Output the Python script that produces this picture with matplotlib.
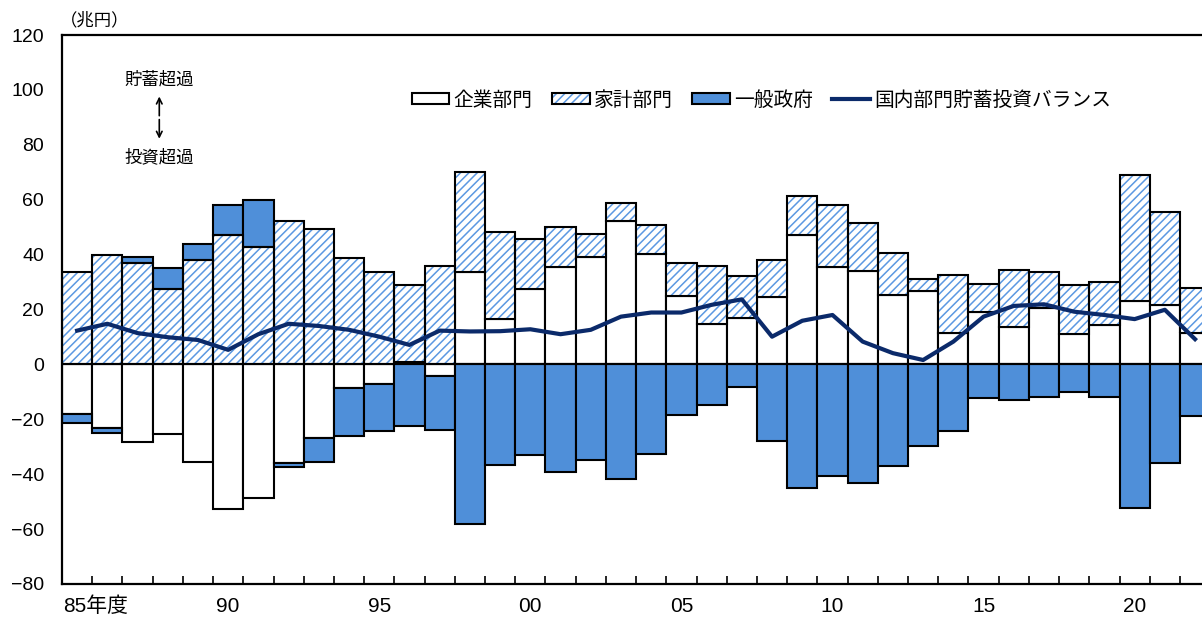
import matplotlib
matplotlib.use("Agg")
import matplotlib.pyplot as plt
import numpy as np
from matplotlib import font_manager
from matplotlib.patches import Patch
from matplotlib.lines import Line2D
from matplotlib.ticker import FixedLocator

available = {f.name for f in font_manager.fontManager.ttflist}
num_font = 'Liberation Sans Narrow' if 'Liberation Sans Narrow' in available else 'Liberation Sans'
plt.rcParams['font.family'] = [num_font, 'Noto Sans CJK JP', 'DejaVu Sans']
plt.rcParams['hatch.linewidth'] = 1.1

years = list(range(1985, 2023))
corp = [-18.0, -23.1, -28.1, -25.3, -35.4, -52.8, -48.8, -35.8, -26.9, -8.6, -7.2, 1.0,
        -4.2, 33.7, 16.6, 27.6, 35.6, 39.1, 52.4, 40.4, 24.8, 14.6, 16.8, 24.5, 47.1,
        35.6, 34.2, 25.2, 26.8, 11.5, 19.2, 13.7, 20.5, 11.2, 14.4, 23.1, 21.8, 11.4]
household = [33.8, 39.8, 36.9, 27.6, 38.0, 47.1, 42.9, 52.4, 49.5, 38.6, 33.7, 27.8,
             35.9, 36.4, 31.8, 18.2, 14.4, 8.4, 6.4, 10.5, 12.2, 21.4, 15.3, 13.5, 14.2,
             22.6, 17.2, 15.3, 4.3, 21.1, 10.2, 20.7, 13.1, 17.7, 15.5, 45.8, 33.6, 16.5]
government = [-3.4, -2.0, 2.4, 7.7, 6.0, 11.0, 17.0, -1.7, -8.6, -17.6, -17.2, -22.3,
              -19.7, -58.2, -36.6, -33.1, -39.3, -35.0, -41.7, -32.5, -18.6, -14.9, -8.4,
              -28.0, -45.2, -40.5, -43.2, -36.9, -29.6, -24.3, -12.2, -13.1, -11.8, -9.9,
              -12.0, -52.4, -35.8, -18.8]
balance = [12.3, 14.8, 11.4, 9.9, 8.9, 5.3, 11.0, 14.8, 14.0, 12.6, 10.1, 7.1,
           12.3, 12.0, 12.1, 12.8, 11.0, 12.6, 17.4, 18.9, 18.9, 21.7, 23.7, 10.1, 15.9,
           18.0, 8.3, 4.1, 1.6, 8.3, 17.4, 21.3, 21.9, 19.2, 18.0, 16.5, 19.9, 9.2]
xlabels = ['85年度', '90', '95', '00', '05', '10', '15', '20']
label_years = [1985, 1990, 1995, 2000, 2005, 2010, 2015, 2020]

c_gov = '#4F8FD9'
c_hatch = '#5B98E2'
c_line = '#0B2A6A'

x = np.arange(len(years))
corp_a = np.array(corp)
hh_a = np.array(household)
gov_a = np.array(government)

# stacking: positive side corp -> household -> gov, negative side corp -> gov
corp_pos = np.clip(corp_a, 0, None)
corp_neg = np.clip(corp_a, None, 0)
hh_bottom = corp_pos
gov_bottom = np.where(gov_a > 0, corp_pos + hh_a, corp_neg)

fig = plt.figure(figsize=(12.02, 6.21), dpi=100)
ax = fig.add_axes([62 / 1202, 37 / 621, 1 - 62 / 1202, (584 - 35) / 621])

w = 1.0
ax.bar(x, corp_a, w, color='white', edgecolor='black', linewidth=1.5, zorder=2)
ax.bar(x, hh_a, w, bottom=hh_bottom, color='white', edgecolor=c_hatch, linewidth=0,
       hatch='////', zorder=2)
ax.bar(x, hh_a, w, bottom=hh_bottom, fill=False, edgecolor='black', linewidth=1.5, zorder=3)
ax.bar(x, gov_a, w, bottom=gov_bottom, color=c_gov, edgecolor='black', linewidth=1.5, zorder=2)

ax.axhline(0, color='black', linewidth=1.5, zorder=4)
ax.plot(x, balance, color=c_line, linewidth=3, zorder=5)

ax.set_xlim(-0.5, 37.23)
ax.set_ylim(-80, 120)
ax.set_yticks(np.arange(-80, 121, 20))
ax.tick_params(axis='y', length=0, labelsize=14, pad=13)

# first label ("85年度") sits a little right of its bar, as in the source chart
label_pos = [years.index(y) for y in label_years]
label_pos[0] = 0.62
ax.set_xticks(label_pos)
ax.set_xticklabels(xlabels)
ax.xaxis.set_minor_locator(FixedLocator(np.arange(0.5, 37.5, 1)))
ax.tick_params(axis='x', which='major', length=0, labelsize=15, pad=9)
ax.tick_params(axis='x', which='minor', direction='in', length=6, width=1.2)

for s in ['left', 'bottom', 'top']:
    ax.spines[s].set_linewidth(1.6)
ax.spines['right'].set_visible(False)

cjk = ['Noto Sans CJK JP']
fig.text(60 / 1202, 1 - 20 / 621, '（兆円）', fontsize=12.5, va='center', ha='left', family=cjk)
ax.text(2.72, 103.6, '貯蓄超過', fontsize=12.5, ha='center', va='center', family=cjk)
ax.annotate('', xy=(2.72, 97.6), xytext=(2.72, 90.6),
            arrowprops=dict(arrowstyle='->', lw=1.2, color='black', shrinkA=0, shrinkB=0))
ax.annotate('', xy=(2.72, 82.2), xytext=(2.72, 89.2),
            arrowprops=dict(arrowstyle='->', lw=1.2, color='black', shrinkA=0, shrinkB=0))
ax.text(2.72, 75.6, '投資超過', fontsize=12.5, ha='center', va='center', family=cjk)

h_corp = Patch(facecolor='white', edgecolor='black', linewidth=1.5)
h_hh_fill = Patch(facecolor='white', edgecolor=c_hatch, linewidth=0, hatch='////')
h_hh_edge = Patch(fill=False, edgecolor='black', linewidth=1.5)
h_gov = Patch(facecolor=c_gov, edgecolor='black', linewidth=1.5)
h_line = Line2D([0], [0], color=c_line, linewidth=3)
leg = fig.legend([h_corp, (h_hh_fill, h_hh_edge), h_gov, h_line],
                 ['企業部門', '家計部門', '一般政府', '国内部門貯蓄投資バランス'],
                 loc='center left', bbox_to_anchor=(412 / 1202, 1 - 100 / 621),
                 ncol=4, frameon=False, prop={'family': cjk, 'size': 14.2},
                 handlelength=1.9, handleheight=0.45, handletextpad=0.2,
                 columnspacing=1.0, borderpad=0, borderaxespad=0)

fig.savefig('out.png', dpi=100)
